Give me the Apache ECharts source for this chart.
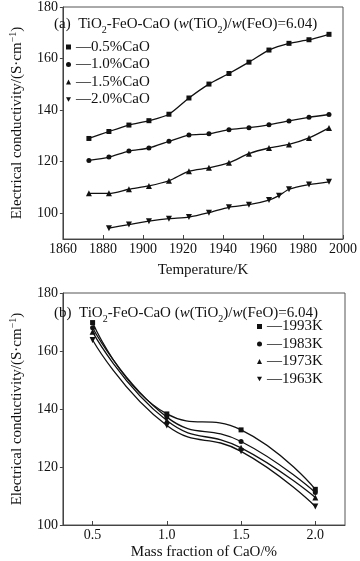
<!DOCTYPE html>
<html>
<head>
<meta charset="utf-8">
<script src="https://cdn.jsdelivr.net/npm/echarts@6/dist/echarts.min.js"></script>
<style>
html,body{margin:0;padding:0;background:#fff;}
#chart{width:360px;height:561px;}
</style>
</head>
<body>
<div id="chart"></div>
<script>
// ---- Data (a): conductivity vs temperature ----
var tempsA = [1873, 1883, 1893, 1903, 1913, 1923, 1933, 1943, 1953, 1963, 1973, 1983, 1993];
var tempsD = [1883, 1893, 1903, 1913, 1923, 1933, 1943, 1953, 1963, 1968, 1973, 1983, 1993];
var cao05 = [129.0, 131.7, 134.2, 135.9, 138.4, 144.7, 150.1, 154.2, 158.6, 163.3, 165.9, 167.3, 169.4];
var cao10 = [120.5, 121.8, 124.1, 125.3, 127.9, 130.3, 130.8, 132.4, 133.2, 134.3, 135.8, 137.2, 138.3];
var cao15 = [107.7, 107.7, 109.3, 110.6, 112.6, 116.3, 117.6, 119.6, 123.1, 125.3, 126.7, 129.2, 133.1];
var cao20 = [94.2, 95.6, 96.9, 97.9, 98.5, 100.2, 102.3, 103.3, 105.1, 106.8, 109.3, 111.1, 112.2];
var namesA = ['0.5%CaO', '1.0%CaO', '1.5%CaO', '2.0%CaO'];
var yTicksA = [100, 120, 140, 160, 180];

// ---- Data (b): conductivity vs CaO mass fraction ----
var caoFrac = [0.5, 1.0, 1.5, 2.0];
var k1993 = [169.8, 138.3, 132.8, 112.3];
var k1983 = [168.0, 137.2, 128.8, 111.2];
var k1973 = [166.6, 136.0, 126.6, 109.5];
var k1963 = [163.8, 134.3, 125.4, 106.4];
var namesB = ['1993K', '1983K', '1973K', '1963K'];
var xTicksB = [0.5, 1.0, 1.5, 2.0];

var FONT = 'Liberation Serif';
var INK = '#111';
var AXC = '#444';
var DOWN = 'path://M0,0L10,0L5,9Z';
var symbols = ['rect', 'circle', 'triangle', DOWN];
var symSizes = [5, 5, 6, 6];

function pairs(xs, ys) { return xs.map(function (x, i) { return [x, ys[i]]; }); }

var seriesA = [
  pairs(tempsA, cao05), pairs(tempsA, cao10), pairs(tempsA, cao15), pairs(tempsD, cao20)
];
var seriesB = [pairs(caoFrac, k1993), pairs(caoFrac, k1983), pairs(caoFrac, k1973), pairs(caoFrac, k1963)];

var series = [];
namesA.forEach(function (n, i) {
  series.push({
    name: n, type: 'line', xAxisIndex: 0, yAxisIndex: 0, data: seriesA[i],
    symbol: symbols[i], symbolSize: symSizes[i], smooth: 0.25,
    lineStyle: {color: INK, width: 1.3}, itemStyle: {color: INK}, showSymbol: true, animation: false
  });
});
namesB.forEach(function (n, i) {
  series.push({
    name: n, type: 'line', xAxisIndex: 1, yAxisIndex: 1, data: seriesB[i],
    symbol: symbols[i], symbolSize: symSizes[i], smooth: 0.5,
    lineStyle: {color: INK, width: 1.3}, itemStyle: {color: INK}, showSymbol: true, animation: false
  });
});

var titleRich = {
  sub: {fontSize: 10, fontFamily: FONT, color: INK, verticalAlign: 'bottom', lineHeight: 10},
  it: {fontSize: 15, fontFamily: FONT, color: INK, fontStyle: 'italic'}
};
function titleText(tag) {
  return tag + '  TiO{sub|2}-FeO-CaO ({it|w}(TiO{sub|2})/{it|w}(FeO)=6.04)';
}
var yName = 'Electrical conductivity/(S·cm{sup|−1})';
var yNameStyle = {
  fontFamily: FONT, fontSize: 15, color: INK, lineHeight: 18,
  rich: {sup: {fontSize: 10, fontFamily: FONT, color: INK, verticalAlign: 'top', lineHeight: 10}}
};

function legendCfg(names, left, top) {
  return {
    orient: 'vertical', left: left, top: top, padding: 0, itemGap: 0.5,
    itemWidth: 5, itemHeight: 5,
    data: names.map(function (n, i) { return {name: n, icon: symbols[i]}; }),
    formatter: function (n) { return '—' + n; },
    textStyle: {fontFamily: FONT, fontSize: 15, color: INK, lineHeight: 17},
    itemStyle: {color: INK}, selectedMode: false
  };
}

var labelStyle = {fontFamily: FONT, fontSize: 14, color: INK};

var option = {
  backgroundColor: '#fff',
  animation: false,
  textStyle: {fontFamily: FONT},
  title: [
    {text: titleText('(a)'), left: 54, top: 13, padding: 0,
     textStyle: {fontFamily: FONT, fontSize: 15, color: INK, fontWeight: 'normal', lineHeight: 22, rich: titleRich}},
    {text: titleText('(b)'), left: 54, top: 302, padding: 0,
     textStyle: {fontFamily: FONT, fontSize: 15, color: INK, fontWeight: 'normal', lineHeight: 22, rich: titleRich}}
  ],
  legend: [legendCfg(namesA, 66, 38.5), legendCfg(namesB, 257, 318)],
  grid: [
    {left: 50, right: 15, top: 4, height: 235, show: true, borderColor: '#555', borderWidth: 1, backgroundColor: 'transparent'},
    {left: 50, right: 15, top: 293, height: 235, show: true, borderColor: '#555', borderWidth: 1, backgroundColor: 'transparent'}
  ],
  xAxis: [
    {type: 'value', gridIndex: 0, min: 1860, max: 2000, interval: 20,
     name: 'Temperature/K', nameLocation: 'middle', nameGap: 24,
     nameTextStyle: {fontFamily: FONT, fontSize: 15, color: INK},
     axisLine: {show: true, lineStyle: {color: AXC, width: 1}},
     axisTick: {show: true, inside: true, length: 4, lineStyle: {color: AXC}},
     axisLabel: Object.assign({margin: 3, formatter: function (v) { return String(v); }}, labelStyle),
     splitLine: {show: false}},
    {type: 'value', gridIndex: 1, min: 0.3, max: 2.2,
     name: 'Mass fraction of CaO/%', nameLocation: 'middle', nameGap: 20,
     nameTextStyle: {fontFamily: FONT, fontSize: 15, color: INK},
     axisLine: {show: true, lineStyle: {color: AXC, width: 1}},
     axisTick: {show: true, inside: true, length: 4, lineStyle: {color: AXC}, customValues: xTicksB},
     axisLabel: Object.assign({margin: 3, customValues: xTicksB, formatter: function (v) { return v.toFixed(1); }}, labelStyle),
     splitLine: {show: false}}
  ],
  yAxis: [
    {type: 'value', gridIndex: 0, min: 90, max: 180,
     name: yName, nameLocation: 'middle', nameGap: 35, nameRotate: 90, nameTextStyle: yNameStyle,
     axisLine: {show: true, lineStyle: {color: AXC, width: 1}},
     axisTick: {show: true, inside: false, length: 3, lineStyle: {color: AXC}, customValues: yTicksA},
     axisLabel: Object.assign({margin: 5, customValues: yTicksA}, labelStyle),
     splitLine: {show: false}},
    {type: 'value', gridIndex: 1, min: 100, max: 180, interval: 20,
     name: yName, nameLocation: 'middle', nameGap: 35, nameRotate: 90, nameTextStyle: yNameStyle,
     axisLine: {show: true, lineStyle: {color: AXC, width: 1}},
     axisTick: {show: true, inside: false, length: 3, lineStyle: {color: AXC}},
     axisLabel: Object.assign({margin: 5}, labelStyle),
     splitLine: {show: false}}
  ],
  series: series
};

var chart = echarts.init(document.getElementById('chart'), null, {renderer: 'canvas'});
chart.setOption(option);
</script>
</body>
</html>
